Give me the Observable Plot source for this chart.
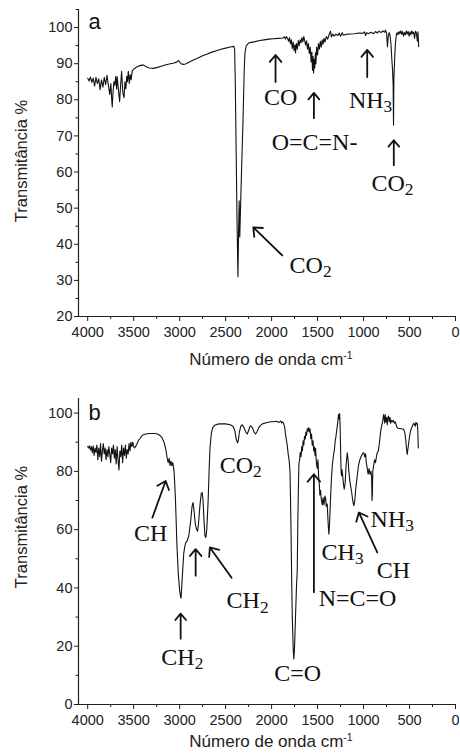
<!DOCTYPE html>
<html>
<head>
<meta charset="utf-8">
<script src="https://cdn.jsdelivr.net/npm/d3@7"></script>
<script src="https://cdn.jsdelivr.net/npm/@observablehq/plot@0.6"></script>
<style>
  html, body { margin: 0; padding: 0; background: #fff; }
  #chart svg { display: block; }
</style>
</head>
<body>
<div id="chart"></div>
<script>
// ---------- axes ----------
const xDomain = [4100, 0];
const xTicks = [4000, 3500, 3000, 2500, 2000, 1500, 1000, 500, 0];
const xMinorTicks = [3750, 3250, 2750, 2250, 1750, 1250, 750, 250];
const yDomainA = [20, 105];
const yTicksA = [20, 30, 40, 50, 60, 70, 80, 90, 100];
const yMinorTicksA = [25, 35, 45, 55, 65, 75, 85, 95, 105];
const yDomainB = [0, 105];
const yTicksB = [0, 20, 40, 60, 80, 100];
const yMinorTicksB = [10, 30, 50, 70, 90];
const xTitle = "Número de onda cm";
const xTitleSup = "-1";
const yTitle = "Transmitância %";

// ---------- panel a spectrum ----------
const waveA = [4000,3985,3970,3955,3940,3925,3910,3895,3880,3865,3850,3835,3820,3805,3790,3775,3760,3748,3740,3733,3725,3715,3705,3695,3685,3679,3665,3653,3642,3631,3618,3605,3595,3585,3575,3568,3558,3548,3538,3528,3515,3496,3470,3440,3410,3390,3360,3330,3290,3250,3200,3150,3100,3060,3030,3012,3000,2985,2960,2935,2900,2850,2800,2750,2700,2650,2600,2550,2500,2450,2410,2402,2395,2385,2375,2366,2358,2352,2346,2338,2325,2310,2298,2290,2275,2250,2220,2180,2130,2080,2030,1980,1930,1880,1860,1850,1840,1826,1815,1805,1795,1785,1775,1765,1755,1745,1740,1730,1720,1710,1700,1690,1680,1670,1660,1650,1640,1630,1620,1610,1600,1590,1580,1570,1562,1555,1549,1543,1537,1530,1524,1518,1510,1500,1490,1480,1470,1460,1450,1440,1430,1420,1405,1390,1375,1359,1350,1335,1320,1300,1280,1265,1250,1232,1220,1190,1150,1100,1050,1010,990,978,968,950,920,890,870,850,830,810,790,770,761,750,740,732,722,712,702,692,684,678,674,670,665,660,652,643,635,625,615,605,595,585,575,565,555,545,535,525,515,505,495,485,475,465,455,445,435,425,415,408,400];
const transA = [86,85.2,86.3,84.8,86,83.8,86.2,84.5,85.8,82.8,85.5,83.5,86.2,84.2,86.8,84,81.5,84.5,80.5,78,82,85,84,86.5,83,86.4,82.5,79.5,84,87.9,82,80.6,85,83,86.5,85,87.9,84.5,87,85.5,88,88.6,89,89.4,89.6,89.6,89.1,88.8,88.7,88.9,89.3,89.7,90,90.2,90.5,90.9,90.4,90,89.8,89.9,90.4,91,91.6,92.2,92.7,93.2,93.6,94,94.3,94.6,94.8,94,85,65,45,31,45,52,42,50,62,75,88,93,95,95.7,95.9,96.1,96.4,96.6,96.8,96.9,97,97.1,97.4,96.8,97.5,97,96.2,97.2,95.5,96.6,94.2,96,93.6,95.2,93,95.6,94,96.4,95,96.6,95.8,97.2,96,97.5,96.4,95.2,96.3,94,95.6,92.8,94.6,90.5,93.2,88.2,92,87.4,91.2,88.8,93,90,94.6,92.4,95.6,94,96.2,94.6,96.6,95.4,97,96,97.5,96.8,98,99,97.4,98.2,97.6,98.2,97.8,98.5,97.6,98.6,97.9,98.1,98.2,98.3,98.5,98.4,98.8,97.8,98.6,98.3,98.7,98.3,98.9,98.5,99,98.6,99.1,98.7,99.3,98.4,94.7,97.5,98.6,97.8,95.5,91,88,84,73,86,89,92.5,96,98,98.6,98,98.9,98.3,99.1,98.1,98.9,97.6,98.6,98,99.1,98.2,98.9,97.6,98.8,98,99.1,98.3,98.7,97,99,98.5,96.2,98.8,94.7];

// ---------- panel b spectrum ----------
const waveB = [4000,3990,3980,3970,3960,3950,3940,3930,3920,3910,3900,3890,3880,3870,3860,3850,3840,3830,3820,3810,3800,3790,3780,3770,3760,3750,3740,3730,3720,3710,3700,3690,3680,3670,3660,3650,3640,3630,3620,3610,3600,3590,3580,3570,3560,3550,3540,3530,3520,3510,3500,3490,3470,3450,3420,3400,3370,3330,3300,3270,3240,3210,3190,3170,3150,3135,3125,3115,3105,3095,3085,3075,3060,3045,3030,3015,3000,2990,2985,2978,2965,2955,2945,2935,2920,2900,2880,2865,2855,2845,2830,2815,2805,2795,2780,2765,2755,2745,2735,2725,2715,2705,2690,2680,2670,2655,2640,2620,2590,2550,2500,2450,2420,2400,2385,2370,2360,2350,2335,2320,2300,2280,2265,2250,2235,2225,2210,2190,2175,2160,2140,2120,2100,2060,2011,1980,1950,1920,1900,1890,1880,1870,1860,1850,1840,1830,1820,1810,1800,1795,1788,1783,1775,1765,1758,1750,1740,1730,1721,1715,1708,1703,1695,1688,1680,1672,1665,1657,1650,1642,1635,1627,1620,1612,1605,1598,1590,1582,1574,1566,1558,1550,1542,1535,1528,1522,1513,1504,1496,1488,1480,1475,1468,1460,1449,1440,1430,1420,1413,1405,1395,1388,1382,1377,1370,1360,1350,1340,1326,1318,1310,1300,1290,1280,1272,1266,1260,1255,1250,1244,1240,1234,1225,1216,1210,1200,1190,1177,1168,1160,1150,1141,1130,1120,1112,1105,1095,1085,1070,1055,1040,1028,1018,1008,997,988,978,970,960,950,940,930,920,912,908,904,900,890,880,870,860,851,840,830,820,810,800,790,782,775,770,765,758,750,742,735,728,720,712,705,695,685,675,665,655,645,634,620,600,580,562,550,540,532,525,518,508,495,482,470,460,453,445,438,430,422,416,410,405];
const transB = [88.5,88,88.8,87.3,88.5,86.4,88.8,85.5,88,86.5,89,84,88,85,89.5,83.5,87,89.5,86,88,84,87.5,85,88.5,86,83,88,86,89,84.5,87.5,82.5,88.5,84,80.5,87,85,89,83,88,85.5,89,84.5,87.5,86,89.5,87,90,88.5,90,88.5,88,89,90.5,91.8,92.5,92.8,93,93,93,92.8,92.2,91.5,90,87.5,84.5,83,84.5,82,83.5,82,83,80,70,55,45,39,37,36.5,40,47,52,54,55.5,56,58,63,68,69.3,67,62,60,59.5,62,68,72.5,72.7,70,63,58,57.3,60,70,80,88,93,95,95.8,96.2,96.3,96.3,96,95.5,94,91,89.8,91,93.5,95.5,96,95,93.5,92.8,94,95.5,95.6,95,93.5,92.8,93.5,95,95.8,96.3,96.7,97,97,97.2,96.8,97.3,96.6,97,96.4,95.5,93,91,89,86,84,80,72,58,46,30,19,15.6,20,30,40,46,62,75,82.5,84,86.5,85,88.5,87,90.5,89,92,91,93.5,92.3,94.6,93.8,95,93.5,94.6,91.2,92.8,89,90.5,87,88.4,85.5,87.9,83,81,84,78,75,71.9,73.5,70.5,68.5,71,68.5,71.5,70.8,68,68.8,64,60.5,58.4,62,70,77,82,85.8,87,90,92,94.5,97,99.5,98,99.8,96,88,80,78.5,80.5,77.8,75,73.9,76,82,86.4,84,80,77,75,73,70.5,69,68.2,70,74,78,82,84,85,85.6,86.2,86.4,85,86,83,81,79,81,79,80,78,70,72,80,82,84,83,85,86.4,87,89,92,94.5,96,97.5,99.5,98,96.5,99.5,97,98.5,96,98.5,99,97,98.5,96.5,97.5,97,97.5,96.5,97,96,95,94.8,94.6,94.6,94.3,93,90.5,87.5,85.8,87.5,90,93,94.5,95.5,96.2,96.5,96,95.5,96.8,96.2,96.5,94,88];

// ---------- annotations (data coordinates: wavenumber, transmittance) ----------
const labelTextA = ["CO", "O=C=N-", "NH₃", "CO₂", "CO₂"];
const labelWaveA = [1902, 1533, 924, 685, 1576];
const labelTransA = [80.8, 68.3, 79.9, 56.9, 34.1];
const arrowFromWaveA = [1957, 1540, 960, 671, 1884];
const arrowFromTransA = [84.9, 74.9, 86.3, 61.9, 36.9];
const arrowToWaveA = [1957, 1540, 960, 671, 2199];
const arrowToTransA = [92.4, 81.9, 93.8, 68.8, 44.7];

const labelTextB = ["CH", "CH₂", "CH₂", "CO₂", "C=O", "N=C=O", "CH₃", "NH₃", "CH"];
const labelWaveB = [3315, 2971, 2261, 2337, 1717, 1065, 1228, 688, 674];
const labelTransB = [58.6, 16.2, 35.6, 82.2, 10.6, 36.3, 52.2, 63.6, 45.9];
const arrowFromWaveB = [3297, 2989, 2826, 2435, 1540, 851];
const arrowFromTransB = [64.1, 22.6, 44.2, 43.5, 38.5, 52.2];
const arrowToWaveB = [3152, 2989, 2826, 2671, 1540, 1051];
const arrowToTransB = [76.7, 31.2, 53.3, 53.9, 79.0, 65.9];

const sans = "'Liberation Sans', Arial, Helvetica, sans-serif";
const serif = "'Liberation Serif', 'Times New Roman', serif";

function subify(svg) {
  d3.select(svg).selectAll("text").each(function () {
    const s = this.textContent;
    const m = s.match(/^(.*?)([₂₃])$/);
    if (!m) return;
    const el = d3.select(this);
    el.text(null);
    el.append("tspan").text(m[1]);
    el.append("tspan").attr("dy", "0.24em").attr("font-size", "72%").text(m[2] === "₂" ? "2" : "3");
  });
}

function panel(cfg) {
  const spectrum = cfg.wave.map((w, i) => ({wave: w, trans: cfg.trans[i]}));
  const labels = cfg.labelText.map((t, i) => ({text: t, wave: cfg.labelWave[i], trans: cfg.labelTrans[i]}));
  const arrows = cfg.fromWave.map((w, i) => ({x1: w, y1: cfg.fromTrans[i], x2: cfg.toWave[i], y2: cfg.toTrans[i]}));
  const svg = Plot.plot({
    width: 460,
    height: cfg.height,
    marginTop: cfg.marginTop,
    marginBottom: cfg.marginBottom,
    marginLeft: 78,
    marginRight: 5,
    style: {fontFamily: sans, background: "#fff", color: "#1a1a1a", overflow: "visible"},
    x: {domain: xDomain},
    y: {domain: cfg.yDomain},
    marks: [
      Plot.axisX(xTicks, {tickSize: 5, tickPadding: 5, fontSize: 14.5, tickFormat: "d", label: null, fill: "#222"}),
      Plot.axisX(xMinorTicks, {tickSize: 3, text: null, label: null}),
      Plot.axisY(cfg.yTicks, {tickSize: 4, tickPadding: 2, fontSize: 14.5, tickFormat: "d", label: null, fill: "#222"}),
      Plot.axisY(cfg.yMinor, {tickSize: 2.5, text: null, label: null}),
      Plot.ruleY([cfg.yDomain[0]], {stroke: "#222", strokeWidth: 1.2}),
      Plot.ruleX([xDomain[0]], {stroke: "#222", strokeWidth: 1.2}),
      Plot.line(spectrum, {x: "wave", y: "trans", stroke: "#111", strokeWidth: 1.1}),
      Plot.arrow(arrows, {x1: "x1", y1: "y1", x2: "x2", y2: "y2", stroke: "#111", strokeWidth: 1.8, headLength: 8, headAngle: 80}),
      Plot.text(labels, {x: "wave", y: "trans", text: "text", fontFamily: serif, fontSize: 24, fill: "#111"}),
      Plot.text([cfg.letter], {frameAnchor: "top-left", dx: 10, dy: cfg.letterDy, lineAnchor: "top", textAnchor: "start", fontSize: 22, fill: "#111"})
    ]
  });
  subify(svg);
  const s = d3.select(svg);
  const xt = s.append("text")
    .attr("x", 271).attr("y", cfg.xTitleY)
    .attr("text-anchor", "middle").attr("font-family", sans).attr("font-size", 17).attr("fill", "#222");
  xt.append("tspan").text(xTitle);
  xt.append("tspan").attr("dy", "-0.55em").attr("font-size", "62%").text(xTitleSup);
  s.append("text")
    .attr("transform", `translate(27,${cfg.yTitleY}) rotate(-90)`)
    .attr("text-anchor", "middle").attr("font-family", sans).attr("font-size", 16.5).attr("fill", "#222")
    .text(yTitle);
  return svg;
}

const root = document.getElementById("chart");
root.appendChild(panel({
  height: 375, marginTop: 9, marginBottom: 59,
  yDomain: yDomainA, yTicks: yTicksA, yMinor: yMinorTicksA,
  wave: waveA, trans: transA,
  labelText: labelTextA, labelWave: labelWaveA, labelTrans: labelTransA,
  fromWave: arrowFromWaveA, fromTrans: arrowFromTransA, toWave: arrowToWaveA, toTrans: arrowToTransA,
  letter: "a", letterDy: 4, xTitleY: 365, yTitleY: 161
}));
root.appendChild(panel({
  height: 379, marginTop: 23, marginBottom: 50,
  yDomain: yDomainB, yTicks: yTicksB, yMinor: yMinorTicksB,
  wave: waveB, trans: transB,
  labelText: labelTextB, labelWave: labelWaveB, labelTrans: labelTransB,
  fromWave: arrowFromWaveB, fromTrans: arrowFromTransB, toWave: arrowToWaveB, toTrans: arrowToTransB,
  letter: "b", letterDy: 6, xTitleY: 372, yTitleY: 152
}));
</script>
</body>
</html>
